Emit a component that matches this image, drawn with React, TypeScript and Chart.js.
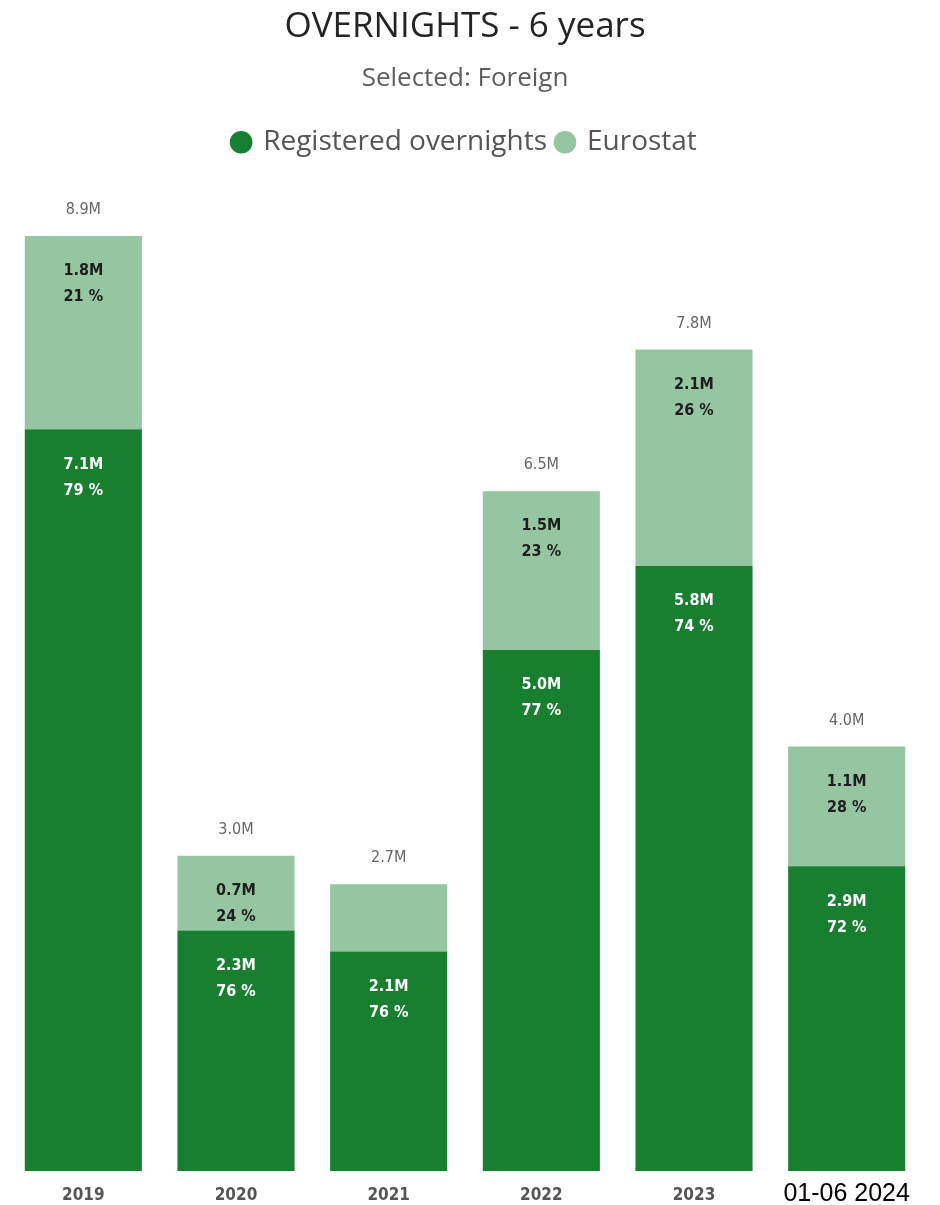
import React, { useEffect, useRef } from "react";
import { Chart, registerables } from "chart.js";

Chart.register(...registerables);

const categories = ["2019", "2020", "2021", "2022", "2023", "01-06 2024"];
const registered = [7.06, 2.29, 2.09, 4.96, 5.76, 2.9];
const eurostat = [1.84, 0.71, 0.64, 1.51, 2.06, 1.14];
const registeredPct = [79, 76, 76, 77, 74, 72];
const eurostatPct = [21, 24, 24, 23, 26, 28];

const DARK = "#187f31";
const LIGHT = "#95c5a1";
const LABEL_FONT = "'DejaVu Sans Condensed', 'DejaVu Sans', sans-serif";

const labelPlugin = {
  id: "segLabels",
  afterDatasetsDraw(chart: any) {
    const ctx = chart.ctx;
    ctx.save();
    ctx.textAlign = "center";
    ctx.textBaseline = "middle";
    const pcts = [registeredPct, eurostatPct];
    const colors = ["#ffffff", "#1e1e1e"];
    chart.data.datasets.forEach((ds: any, di: number) => {
      const meta = chart.getDatasetMeta(di);
      meta.data.forEach((bar: any, i: number) => {
        const top = Math.min(bar.y, bar.base);
        const h = Math.abs(bar.base - bar.y);
        if (h < 72) return;
        ctx.fillStyle = colors[di];
        ctx.font = `bold 16px ${LABEL_FONT}`;
        ctx.fillText(`${(ds.data[i] as number).toFixed(1)}M`, bar.x, top + 35);
        ctx.fillText(`${pcts[di][i]} %`, bar.x, top + 61);
      });
    });
    const topMeta = chart.getDatasetMeta(chart.data.datasets.length - 1);
    ctx.fillStyle = "#666666";
    ctx.font = `16px ${LABEL_FONT}`;
    topMeta.data.forEach((bar: any, i: number) => {
      const total = registered[i] + eurostat[i];
      ctx.fillText(`${total.toFixed(1)}M`, bar.x, bar.y - 26);
    });
    ctx.restore();
  },
};

export default function App() {
  const ref = useRef<HTMLCanvasElement>(null);
  useEffect(() => {
    if (!ref.current) return;
    const chart = new Chart(ref.current, {
      type: "bar",
      data: {
        labels: categories,
        datasets: [
          {
            label: "Registered overnights",
            data: registered,
            backgroundColor: DARK,
            borderWidth: 0,
            barPercentage: 0.767,
            categoryPercentage: 1,
          },
          {
            label: "Eurostat",
            data: eurostat,
            backgroundColor: LIGHT,
            borderWidth: 0,
            barPercentage: 0.767,
            categoryPercentage: 1,
          },
        ],
      },
      options: {
        animation: false,
        responsive: true,
        maintainAspectRatio: false,
        layout: { padding: { left: 7, right: 17, top: 0, bottom: -16 } },
        plugins: {
          title: {
            display: true,
            text: "OVERNIGHTS - 6 years",
            color: "#252423",
            font: { family: "'Open Sans', sans-serif", size: 35, weight: "normal", lineHeight: 1.2 },
            padding: { top: 6, bottom: 15 },
          },
          subtitle: {
            display: true,
            text: "Selected: Foreign",
            color: "#605e5c",
            font: { family: "'Open Sans', sans-serif", size: 26, weight: "normal", lineHeight: 1.2 },
            padding: { top: 0, bottom: 24 },
          },
          legend: {
            display: true,
            position: "top",
            labels: {
              usePointStyle: true,
              boxWidth: 16,
              boxHeight: 16,
              color: "#555555",
              padding: 10,
              font: { family: "'Open Sans', sans-serif", size: 28 },
            },
          },
          tooltip: { enabled: false },
        },
        scales: {
          x: {
            stacked: true,
            grid: { display: false, drawTicks: false },
            border: { display: false },
            ticks: {
              padding: 15,
              color: (c: any) => (c.index === 5 ? "#000000" : "#555555"),
              font: (c: any) =>
                c.index === 5
                  ? { family: "'Liberation Sans', sans-serif", size: 25, weight: "normal", lineHeight: "16px" }
                  : { family: LABEL_FONT, size: 17, weight: "bold", lineHeight: "20px" },
            },
          },
          y: {
            stacked: true,
            display: false,
            min: 0,
            max: 9.565,
          },
        },
      },
      plugins: [labelPlugin],
    });
    return () => chart.destroy();
  }, []);
  return (
    <div style={{ position: "absolute", left: 0, top: 0, width: 940, height: 1205, background: "#fff" }}>
      <canvas ref={ref} />
    </div>
  );
}
